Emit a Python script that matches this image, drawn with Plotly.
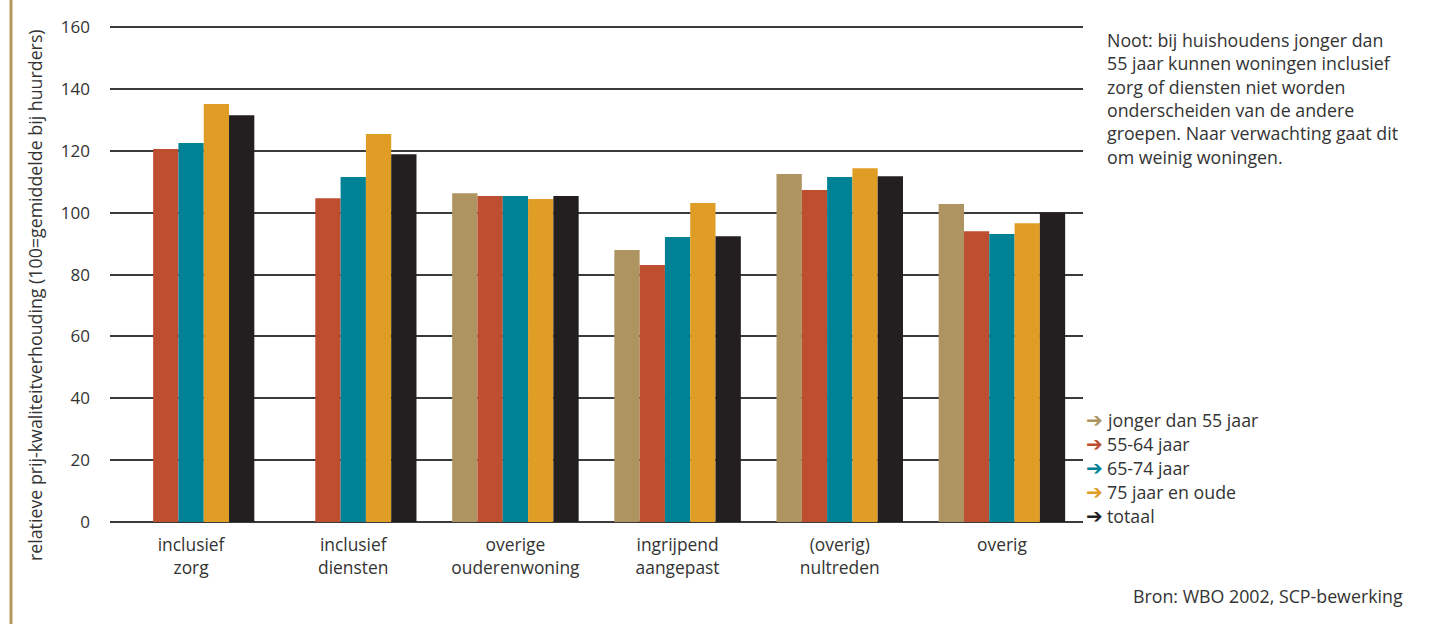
import plotly.graph_objects as go

# Housing categories (two-line labels)
categories = [
    "inclusief<br>zorg",
    "inclusief<br>diensten",
    "overige<br>ouderenwoning",
    "ingrijpend<br>aangepast",
    "(overig)<br>nultreden",
    "overig",
]

# Relative price-quality ratio per age group (100 = average for tenants)
jonger_dan_55 = [None, None, 106.3, 87.9, 112.5, 102.8]
jaar_55_64 = [120.6, 104.7, 105.4, 83.1, 107.3, 94.0]
jaar_65_74 = [122.5, 111.5, 105.4, 92.1, 111.5, 93.1]
jaar_75_plus = [135.1, 125.4, 104.4, 103.1, 114.4, 96.6]
totaal = [131.5, 118.9, 105.4, 92.4, 111.8, 100.0]

series_names = ["jonger dan 55 jaar", "55-64 jaar", "65-74 jaar", "75 jaar en oude", "totaal"]
series_values = [jonger_dan_55, jaar_55_64, jaar_65_74, jaar_75_plus, totaal]
series_colors = ["#AD9460", "#BE4E30", "#008296", "#E09D25", "#231F20"]

y_ticks = [0, 20, 40, 60, 80, 100, 120, 140, 160]

note_lines = [
    "Noot: bij huishoudens jonger dan",
    "55 jaar kunnen woningen inclusief",
    "zorg of diensten niet worden",
    "onderscheiden van de andere",
    "groepen. Naar verwachting gaat dit",
    "om weinig woningen.",
]
source_text = "Bron: WBO 2002, SCP-bewerking"
y_title = "relatieve prij-kwaliteitverhouding (100=gemiddelde bij huurders)"

FONT = "'Open Sans', Roboto, sans-serif"
TEXT = "#333333"
W, H = 1434, 624
ML, MR, MT, MB = 110, 351, 24, 102
PW, PH = W - ML - MR, H - MT - MB
SIDE_SIZE = 17.8


def px_x(px):
    return (px - ML) / PW


def px_y(py):
    return 1 - (py - MT) / PH


fig = go.Figure()
for name, vals, col in zip(series_names, series_values, series_colors):
    fig.add_trace(go.Bar(x=categories, y=vals, name=name, marker=dict(color=col, line=dict(width=0)),
                         showlegend=False))

annotations = []
# Note text block
for i, line in enumerate(note_lines):
    annotations.append(dict(x=px_x(1105), y=px_y(40 + i * 23.3), xref="paper", yref="paper",
                            text=line, showarrow=False, xanchor="left", yanchor="middle",
                            font=dict(family=FONT, size=SIDE_SIZE, color=TEXT)))
# Legend with coloured arrows
for i, (name, col) in enumerate(zip(series_names, series_colors)):
    yy = px_y(420 + i * 24)
    annotations.append(dict(x=px_x(1084), y=yy, xref="paper", yref="paper",
                            text="<b>➔</b>", showarrow=False, xanchor="left", yanchor="middle",
                            font=dict(family="DejaVu Sans", size=20, color=col)))
    annotations.append(dict(x=px_x(1105), y=yy, xref="paper", yref="paper",
                            text=name, showarrow=False, xanchor="left", yanchor="middle",
                            font=dict(family=FONT, size=SIDE_SIZE, color=TEXT)))
# Source line
annotations.append(dict(x=px_x(1405), y=px_y(596), xref="paper", yref="paper",
                        text=source_text, showarrow=False, xanchor="right", yanchor="middle",
                        font=dict(family=FONT, size=SIDE_SIZE, color=TEXT)))
# Vertical axis title
annotations.append(dict(x=px_x(35), y=px_y(295), xref="paper", yref="paper",
                        text=y_title, showarrow=False, textangle=-90,
                        xanchor="center", yanchor="middle",
                        font=dict(family=FONT, size=17.8, color=TEXT)))

fig.update_layout(
    width=W, height=H,
    margin=dict(l=ML, r=MR, t=MT, b=MB, pad=0),
    paper_bgcolor="white", plot_bgcolor="white",
    barmode="group", bargap=0.22, bargroupgap=0,
    font=dict(family=FONT, size=17, color=TEXT),
    annotations=annotations,
    shapes=[dict(type="line", xref="paper", yref="paper",
                 x0=px_x(11), x1=px_x(11), y0=px_y(-5), y1=px_y(630),
                 line=dict(color="#B49A5E", width=3))],
)
fig.update_xaxes(showline=False, ticks="", showgrid=False,
                 tickfont=dict(family=FONT, size=17.4, color=TEXT), ticklabelstandoff=11)
fig.update_yaxes(range=[0, 161], tickvals=y_ticks, showgrid=True, gridcolor="#3a3a3a", gridwidth=2,
                 zeroline=True, zerolinecolor="#3a3a3a", zerolinewidth=2,
                 showline=False, ticks="", ticklabelstandoff=19,
                 tickfont=dict(family=FONT, size=17, color=TEXT))

fig.write_html("out.html")
